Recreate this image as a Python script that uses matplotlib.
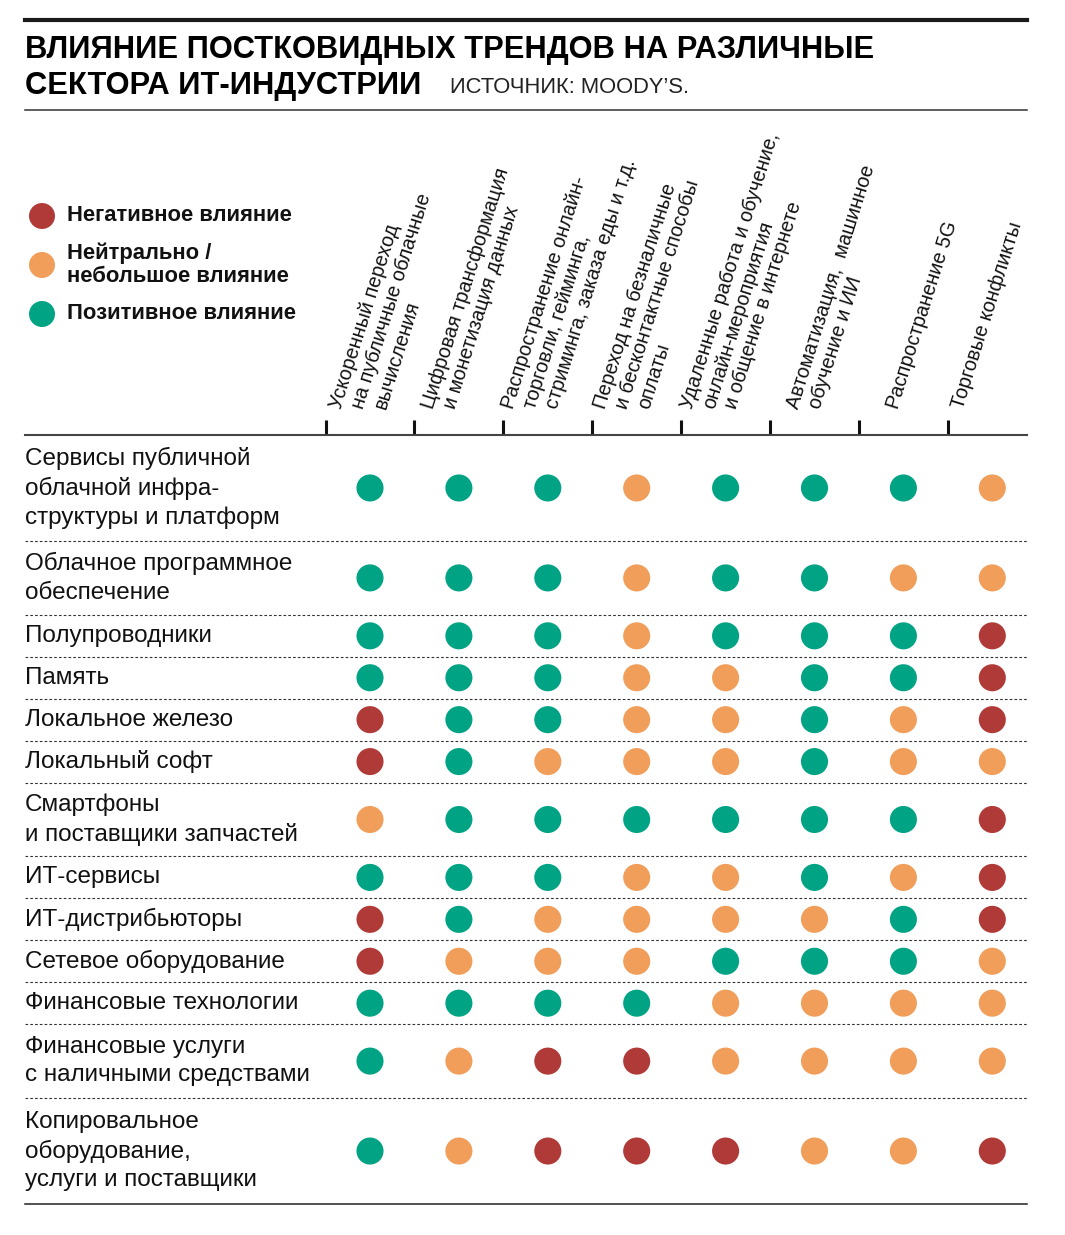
import matplotlib.pyplot as plt
import numpy as np
from matplotlib.lines import Line2D
from matplotlib import transforms

plt.rcParams['font.family'] = ['Liberation Sans', 'DejaVu Sans']

W, H = 1065, 1235

title_lines = ['ВЛИЯНИЕ ПОСТКОВИДНЫХ ТРЕНДОВ НА РАЗЛИЧНЫЕ', 'СЕКТОРА ИТ-ИНДУСТРИИ']
source = 'ИСТОЧНИК: MOODY’S.'

trends = [
    ['Ускоренный переход', 'на публичные облачные', 'вычисления'],
    ['Цифровая трансформация', 'и монетизация данных'],
    ['Распространение онлайн-', 'торговли, гейминга,', 'стриминга, заказа еды и т.д.'],
    ['Переход на безналичные', 'и бесконтактные способы', 'оплаты'],
    ['Удаленные работа и обучение,', 'онлайн-мероприятия', 'и общение в интернете'],
    ['Автоматизация,  машинное', 'обучение и ИИ'],
    ['Распространение 5G'],
    ['Торговые конфликты'],
]

sectors = [
    'Сервисы публичной\nоблачной инфра-\nструктуры и платформ',
    'Облачное программное\nобеспечение',
    'Полупроводники',
    'Память',
    'Локальное железо',
    'Локальный софт',
    'Смартфоны\nи поставщики запчастей',
    'ИТ-сервисы',
    'ИТ-дистрибьюторы',
    'Сетевое оборудование',
    'Финансовые технологии',
    'Финансовые услуги\nс наличными средствами',
    'Копировальное\nоборудование,\nуслуги и поставщики',
]

# -1 = негативное, 0 = нейтрально, 1 = позитивное
impact = [
    [1, 1, 1, 0, 1, 1, 1, 0],
    [1, 1, 1, 0, 1, 1, 0, 0],
    [1, 1, 1, 0, 1, 1, 1, -1],
    [1, 1, 1, 0, 0, 1, 1, -1],
    [-1, 1, 1, 0, 0, 1, 0, -1],
    [-1, 1, 0, 0, 0, 1, 0, 0],
    [0, 1, 1, 1, 1, 1, 1, -1],
    [1, 1, 1, 0, 0, 1, 0, -1],
    [-1, 1, 0, 0, 0, 0, 1, -1],
    [-1, 0, 0, 0, 1, 1, 1, 0],
    [1, 1, 1, 1, 0, 0, 0, 0],
    [1, 0, -1, -1, 0, 0, 0, 0],
    [1, 0, -1, -1, -1, 0, 0, -1],
]

legend_values = [-1, 0, 1]
legend_labels = ['Негативное влияние', 'Нейтрально /\nнебольшое влияние', 'Позитивное влияние']
colors = {-1: '#b03a37', 0: '#f09e5a', 1: '#00a383'}

# layout (pixels)
left, right = 25, 1027
grid_top, grid_bottom = 435, 1204
first_col, col_step = 370, 88.9
header_nudge = [16, 19, 10, 13, 11, 28, 39, 15]

fig = plt.figure(figsize=(W / 100, H / 100), dpi=100)


def fx(px):
    return px / W


def fy(py):
    return 1 - py / H


# rules and title
fig.add_artist(Line2D([fx(left), fx(right)], [fy(20), fy(20)], lw=3, color='#1a1a1a'))
fig.add_artist(Line2D([fx(left), fx(right)], [fy(110), fy(110)], lw=1.1, color='#333333'))
fig.text(fx(left), fy(58), title_lines[0], fontsize=22.2, fontweight='bold', va='baseline')
fig.text(fx(left), fy(94), title_lines[1], fontsize=22.2, fontweight='bold', va='baseline')
fig.text(fx(450), fy(93), source, fontsize=15.8, color='#222222', va='baseline')

# legend (own small axes, units = pixels)
lg_top, lg_bot = 190, 340
lax = fig.add_axes([fx(left), fy(lg_bot), fx(300) - fx(left), (lg_bot - lg_top) / H])
lax.set_xlim(0, 300 - left)
lax.set_ylim(lg_bot - lg_top, 0)
lax.axis('off')
leg_lines = np.array([s.count('\n') + 1 for s in legend_labels])
leg_h = 24 * leg_lines + 13
leg_y = 26 - leg_h[0] / 2 + np.concatenate([[0], np.cumsum(leg_h)[:-1]]) + leg_h / 2
lax.scatter(np.full(len(legend_values), 17), leg_y, s=350, linewidths=0,
            c=[colors[v] for v in legend_values])
for lab, y in zip(legend_labels, leg_y):
    lax.text(42, y, lab, ha='left', va='center', fontsize=15.8, fontweight='bold',
             linespacing=1.15, color='#111111')

# grid
ax = fig.add_axes([fx(left), fy(grid_bottom), (right - left) / W, (grid_bottom - grid_top) / H])
n_lines = np.array([s.count('\n') + 1 for s in sectors])
heights = 9.9 + 32 * n_lines
edges = np.concatenate([[0], np.cumsum(heights)])
centers = (edges[:-1] + edges[1:]) / 2

ax.set_xlim((left - first_col) / col_step, (right - first_col) / col_step)
ax.set_ylim(edges[-1], 0)

vals = np.array(impact)
rows, cols = np.indices(vals.shape)
ax.scatter(cols.ravel(), centers[rows.ravel()], s=380, linewidths=0,
           c=[colors[v] for v in vals.ravel()], zorder=3)

for b in edges[1:-1]:
    ax.axhline(b, color='#333333', lw=0.8, ls=(0, (2.4, 1.9)))

ylab = transforms.blended_transform_factory(ax.transAxes, ax.transData)
for s, c in zip(sectors, centers):
    ax.text(0, c, s, transform=ylab, ha='left', va='center', fontsize=17.5,
            linespacing=1.38, color='#111111')

ax.set_xticks(np.arange(len(trends)) - 0.5)
ax.set_yticks([])
ax.xaxis.tick_top()
ax.tick_params(axis='x', direction='out', length=11, width=2.2, color='#111111',
               labeltop=False, labelbottom=False)
for side in ['left', 'right']:
    ax.spines[side].set_visible(False)
ax.spines['top'].set_linewidth(1.5)
ax.spines['top'].set_color('#444444')
ax.spines['bottom'].set_linewidth(1.1)
ax.spines['bottom'].set_color('#222222')

# rotated column headers
xt = ax.get_xaxis_transform()
for i, lines in enumerate(trends):
    for j, line in enumerate(lines):
        tr = transforms.offset_copy(xt, fig=fig, x=header_nudge[i] + 22 * j, y=grid_top - 410, units='dots')
        ax.text(i - 0.5, 1, line, transform=tr, rotation=72.5, rotation_mode='anchor',
                ha='left', va='baseline', fontsize=14.3, color='#111111', clip_on=False)

fig.savefig('out.png', dpi=100)
